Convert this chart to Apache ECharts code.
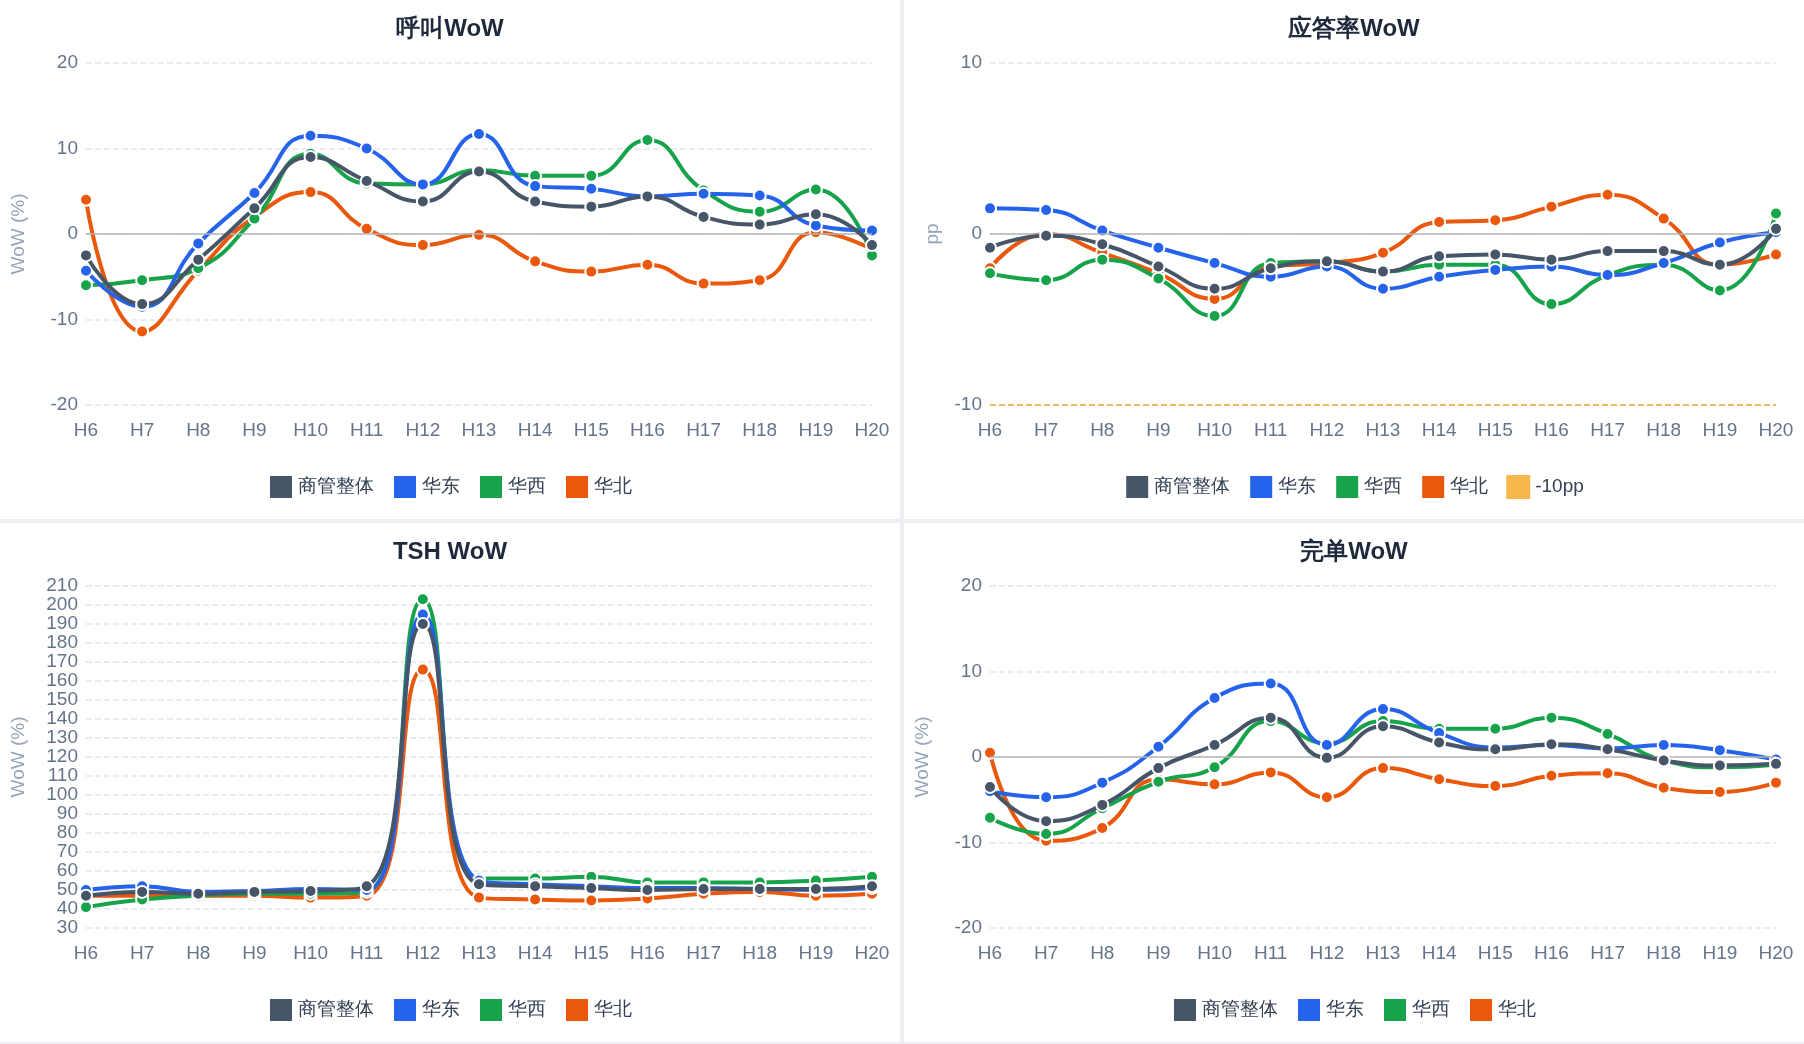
<!DOCTYPE html>
<html><head><meta charset="utf-8">
<script src="https://cdn.jsdelivr.net/npm/echarts@6/dist/echarts.min.js"></script>
<style>
body{margin:0;background:#eceef2;width:1804px;height:1044px;overflow:hidden;font-family:"Noto Sans CJK SC",sans-serif}
.p{position:absolute;background:#fff;width:900px;height:519px}
</style></head><body>
<div id="c1" class="p" style="left:0;top:0"></div>
<div id="c2" class="p" style="left:904px;top:0"></div>
<div id="c3" class="p" style="left:0;top:523px"></div>
<div id="c4" class="p" style="left:904px;top:523px"></div>
<script>
const hours = ['H6','H7','H8','H9','H10','H11','H12','H13','H14','H15','H16','H17','H18','H19','H20'];
const names = ['商管整体','华东','华西','华北'];
const colors = ['#475569','#2563eb','#16a34a','#ea580c'];

const callAll = [-2.5,-8.2,-3,3,9,6.2,3.8,7.3,3.8,3.2,4.4,2,1.1,2.3,-1.3];
const callEast = [-4.3,-8.5,-1.1,4.8,11.5,10,5.8,11.7,5.6,5.3,4.4,4.7,4.5,1,0.4];
const callWest = [-6,-5.4,-4,1.8,9.4,5.9,5.8,7.5,6.8,6.8,11,5.1,2.6,5.2,-2.5];
const callNorth = [4,-11.4,-4.3,2,4.9,0.6,-1.3,-0.1,-3.2,-4.4,-3.6,-5.8,-5.4,0.2,-1.8];

const ansAll = [-0.8,-0.1,-0.6,-1.9,-3.2,-2,-1.6,-2.2,-1.3,-1.2,-1.5,-1,-1,-1.8,0.3];
const ansEast = [1.5,1.4,0.2,-0.8,-1.7,-2.5,-1.9,-3.2,-2.5,-2.1,-1.9,-2.4,-1.7,-0.5,0.1];
const ansWest = [-2.3,-2.7,-1.5,-2.6,-4.8,-1.7,-1.6,-2.2,-1.8,-1.8,-4.1,-2.4,-1.8,-3.3,1.2];
const ansNorth = [-2,0,-1.1,-2.3,-3.8,-1.9,-1.7,-1.1,0.7,0.8,1.6,2.3,0.9,-1.8,-1.2];

const tshAll = [47,49,48,49,49.5,52,190,53,52,51,50,50.5,50.5,50.5,52];
const tshEast = [50,52,49,49.5,50.5,50,195,55,53,52,51,51,50.5,50,51];
const tshWest = [41,45,47,48,48,49,203,56,56,57,54,54,54,55,57];
const tshNorth = [47,47,47,47,46,47,166,46,45,44.5,45.5,48,49,47,48];

const doneAll = [-3.5,-7.5,-5.6,-1.3,1.4,4.6,-0.1,3.6,1.7,0.9,1.5,0.9,-0.4,-1,-0.8];
const doneEast = [-4,-4.7,-3,1.2,6.9,8.6,1.4,5.6,2.8,1.1,1.4,1,1.4,0.8,-0.3];
const doneWest = [-7.1,-9,-6,-2.9,-1.2,4.2,1.6,4.2,3.3,3.3,4.6,2.7,-0.4,-1.2,-0.9];
const doneNorth = [0.5,-9.8,-8.3,-2.6,-3.2,-1.8,-4.7,-1.3,-2.6,-3.4,-2.2,-1.9,-3.6,-4.1,-3];

function make(id, title, data, y, yName, extra) {
  const chart = echarts.init(document.getElementById(id));
  const series = data.map((d, i) => ({
    name: names[i], type: 'line', smooth: true, data: d,
    symbol: 'circle', symbolSize: 12, z: i === 0 ? 5 : 4 - i,
    lineStyle: { width: 4, color: colors[i] },
    itemStyle: { color: colors[i], borderColor: '#fff', borderWidth: 2 }
  }));
  if (y.zero) {
    series[0].markLine = { silent: true, symbol: 'none', label: { show: false },
      lineStyle: { color: '#b5b5b5', type: 'solid', width: 1.5 }, data: [{ yAxis: 0 }] };
  }
  if (extra) series.push(extra);
  chart.setOption({
    animation: false,
    title: { text: title, left: 'center', top: 12, textStyle: { fontSize: 24, fontWeight: 'bold', color: '#1e293b' } },
    grid: { left: 86, right: 28, top: 63, bottom: 114 },
    legend: { bottom: 14, itemWidth: 24, itemHeight: 24, itemGap: 18, icon: 'rect',
      textStyle: { fontSize: 19, color: '#334155' } },
    xAxis: { type: 'category', data: hours, boundaryGap: false,
      axisLine: { show: false }, axisTick: { show: false },
      axisLabel: { fontSize: 19, color: '#64748b', margin: 16 } },
    yAxis: { type: 'value', min: y.min, max: y.max, interval: y.interval,
      name: yName, nameLocation: 'middle', nameGap: y.gap || 58,
      nameTextStyle: { fontSize: 19, color: '#94a3b8' },
      axisLabel: { fontSize: 19, color: '#64748b' },
      splitLine: { lineStyle: { type: 'dashed', color: '#e2e8f0', width: 1.5 } } },
    series
  });
}

make('c1', '呼叫WoW', [callAll, callEast, callWest, callNorth], { min: -20, max: 20, interval: 10, zero: true }, 'WoW (%)');
make('c2', '应答率WoW', [ansAll, ansEast, ansWest, ansNorth], { min: -10, max: 10, interval: 10, zero: true, gap: 48 }, 'pp', {
  name: '-10pp', type: 'line', data: [], itemStyle: { color: '#f6b84a' },
  markLine: { silent: true, symbol: 'none', label: { show: false },
    lineStyle: { color: '#f6ad37', type: 'dashed', width: 1.5 }, data: [{ yAxis: -10 }] }
});
make('c3', 'TSH WoW', [tshAll, tshEast, tshWest, tshNorth], { min: 30, max: 210, interval: 10, zero: false }, 'WoW (%)');
make('c4', '完单WoW', [doneAll, doneEast, doneWest, doneNorth], { min: -20, max: 20, interval: 10, zero: true }, 'WoW (%)');
</script>
</body></html>
